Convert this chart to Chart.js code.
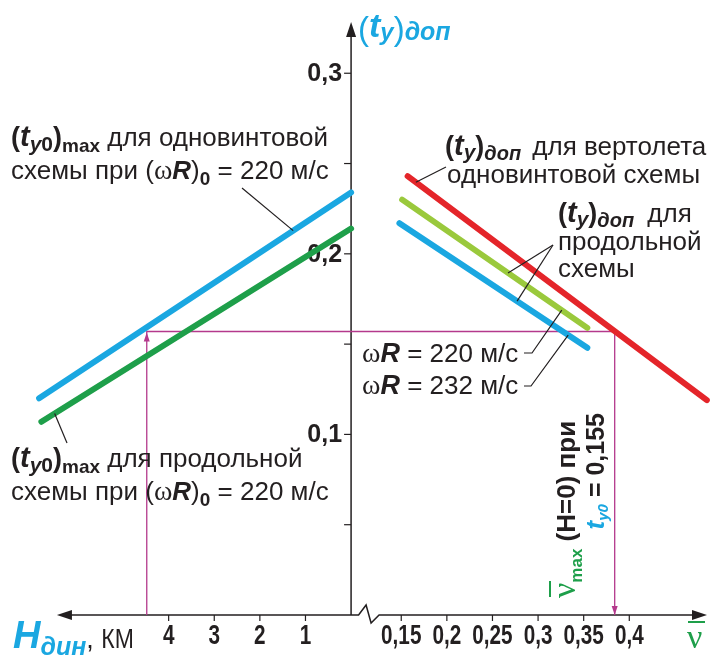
<!DOCTYPE html>
<html>
<head>
<meta charset="utf-8">
<script src="https://cdn.jsdelivr.net/npm/chart.js@4.4.0/dist/chart.umd.min.js"></script>
<style>
  html, body { margin: 0; padding: 0; background: #fff; }
  canvas { display: block; }
</style>
</head>
<body>
<canvas id="chart" width="710" height="658"></canvas>
<script>
// ticks
const hTicks = [4, 3, 2, 1];
const nuTicks = [0.15, 0.2, 0.25, 0.3, 0.35, 0.4];
const nuTickLabels = ['0,15', '0,2', '0,25', '0,3', '0,35', '0,4'];
const tyTicks = [0.1, 0.2, 0.3];
const tyTickLabels = ['0,1', '0,2', '0,3'];
const tyMinorTicks = [0.05, 0.15, 0.25];

// (t_y0)max against H_дин, km
const hSingle = [6.84, 0];
const ty0Single = [0.120, 0.234];
const hTandem = [6.79, 0];
const ty0Tandem = [0.107, 0.214];

// (t_y)доп against ν̄
const nuSingle = [0.157, 0.485];
const tySingle = [0.243, 0.119];
const nuTandem220 = [0.151, 0.354];
const tyTandem220 = [0.230, 0.159];
const nuTandem232 = [0.148, 0.354];
const tyTandem232 = [0.217, 0.148];

// worked example (magenta lines)
const hRead = 4.48;
const tyRead = 0.157;
const nuRead = 0.384;

const BLUE = '#1aa7e1', GREEN = '#1e9f4a', LIME = '#9ac93c', RED = '#e4252a';
const PURPLE = '#b4398c', INK = '#231f20';
const SANS = '"Liberation Sans", Arial, sans-serif';
const SERIF = '"Liberation Serif", "Times New Roman", serif';

// one shared x scale: left of the axis is -H (km), right of it is ν̄ (0.05 per unit, after a break)
const NU0 = 1.1;
const fromH = h => -h;
const fromNu = v => NU0 + (v - 0.15) * 20;

function pts(xs, ys, map) {
  return xs.map((v, i) => ({ x: map(v), y: ys[i] }));
}
function series(xs, ys, map, color) {
  return {
    data: pts(xs, ys, map),
    borderColor: color, borderWidth: 6, borderCapStyle: 'round',
    pointRadius: 0, clip: false, tension: 0
  };
}

function rich(ctx, x, y, parts, draw = true) {
  let cx = x;
  for (const [t, font, color, dy = 0, sx = 1] of parts) {
    ctx.font = font;
    if (draw) {
      ctx.fillStyle = color;
      ctx.save();
      ctx.translate(cx, y + dy);
      ctx.scale(sx, 1);
      ctx.fillText(t, 0, 0);
      ctx.restore();
    }
    cx += ctx.measureText(t).width * sx;
  }
  return cx - x;
}

function arrow(ctx, tx, ty, dx, dy, len, half) {
  const px = -dy, py = dx;
  ctx.beginPath();
  ctx.moveTo(tx, ty);
  ctx.lineTo(tx - dx * len + px * half, ty - dy * len + py * half);
  ctx.lineTo(tx - dx * len - px * half, ty - dy * len - py * half);
  ctx.closePath();
  ctx.fill();
}

function seg(ctx, list) {
  ctx.beginPath();
  ctx.moveTo(list[0][0], list[0][1]);
  for (let i = 1; i < list.length; i++) ctx.lineTo(list[i][0], list[i][1]);
  ctx.stroke();
}

const axesPlugin = {
  id: 'axes',
  beforeDatasetsDraw(chart) {
    const { ctx, chartArea, scales: { x, y } } = chart;
    const x0 = x.getPixelForValue(0);
    const y0 = y.getPixelForValue(0);
    ctx.save();
    ctx.strokeStyle = INK; ctx.fillStyle = INK; ctx.lineWidth = 1.5;
    // y axis
    const yTip = chartArea.top - 7;
    seg(ctx, [[x0, y0], [x0, yTip + 8]]);
    arrow(ctx, x0, yTip, 0, -1, 15, 5);
    // x axis with break
    const xLeft = x.getPixelForValue(fromH(6.45));
    const xRight = chartArea.right + 2;
    seg(ctx, [[xLeft + 8, y0], [x0 + 7.5, y0], [x0 + 15, y0 - 10], [x0 + 20, y0 + 8], [x0 + 28, y0], [xRight - 8, y0]]);
    arrow(ctx, xLeft, y0, -1, 0, 15, 5);
    arrow(ctx, xRight, y0, 1, 0, 15, 5);
    // y ticks
    ctx.lineWidth = 1.2;
    tyTicks.concat(tyMinorTicks).forEach(v => {
      const p = y.getPixelForValue(v);
      seg(ctx, [[x0 - 7, p], [x0, p]]);
    });
    ctx.font = `bold 25px ${SANS}`;
    ctx.textAlign = 'right'; ctx.textBaseline = 'middle';
    tyTicks.forEach((v, i) => ctx.fillText(tyTickLabels[i], x0 - 9, y.getPixelForValue(v) + 1));
    // x ticks
    const xt = hTicks.map(h => [x.getPixelForValue(fromH(h)), String(h)])
      .concat(nuTicks.map((v, i) => [x.getPixelForValue(fromNu(v)), nuTickLabels[i]]));
    ctx.textAlign = 'left'; ctx.textBaseline = 'alphabetic';
    xt.forEach(([p, lab]) => {
      seg(ctx, [[p, y0], [p, y0 + 6]]);
      ctx.font = `bold 28px ${SANS}`;
      const w = ctx.measureText(lab).width * 0.74;
      ctx.save(); ctx.translate(p - w / 2, 644); ctx.scale(0.74, 1); ctx.fillText(lab, 0, 0); ctx.restore();
    });
    ctx.restore();
  },
  afterDatasetsDraw(chart) {
    const { ctx, scales: { x, y } } = chart;
    const onLine = (xs, ys, map, v) => {
      const f = (v - xs[0]) / (xs[1] - xs[0]);
      return [x.getPixelForValue(map(v)), y.getPixelForValue(ys[0] + f * (ys[1] - ys[0]))];
    };
    ctx.save();
    // magenta arrow heads
    ctx.fillStyle = PURPLE;
    arrow(ctx, x.getPixelForValue(fromH(hRead)), y.getPixelForValue(tyRead) + 1, 0, -1, 9, 3);
    arrow(ctx, x.getPixelForValue(fromNu(nuRead)), y.getPixelForValue(0), 0, 1, 9, 3);

    // leader lines
    ctx.strokeStyle = INK; ctx.lineWidth = 1.2;
    seg(ctx, [[242, 188], onLine(hSingle, ty0Single, fromH, 1.27)]);
    seg(ctx, [[67, 443], onLine(hTandem, ty0Tandem, fromH, 6.5)]);
    seg(ctx, [[446, 167], onLine(nuSingle, tySingle, fromNu, 0.166)]);
    seg(ctx, [[553, 245], onLine(nuTandem220, tyTandem220, fromNu, 0.267)]);
    seg(ctx, [[553, 245], onLine(nuTandem232, tyTandem232, fromNu, 0.277)]);
    seg(ctx, [[524, 353], [532, 353], onLine(nuTandem220, tyTandem220, fromNu, 0.326)]);
    seg(ctx, [[524, 386], [531, 386], onLine(nuTandem232, tyTandem232, fromNu, 0.333)]);

    ctx.textAlign = 'left'; ctx.textBaseline = 'alphabetic';
    // axis titles
    rich(ctx, 358, 39, [
      ['(', `33px ${SANS}`, BLUE, 1],
      ['t', `italic bold 34px ${SANS}`, BLUE, -2],
      ['y', `italic bold 24px ${SANS}`, BLUE, 1],
      [')', `33px ${SANS}`, BLUE, 1],
      ['доп', `italic bold 25px ${SANS}`, BLUE, 1]
    ]);
    rich(ctx, 13, 648, [
      ['H', `italic bold 38px ${SANS}`, BLUE],
      ['дин', `italic bold 25px ${SANS}`, BLUE, 7],
      [', ', `27px ${SANS}`, INK],
      ['КМ', `28px ${SANS}`, INK, 0, 0.82]
    ]);
    ctx.font = `34px ${SERIF}`;
    ctx.fillStyle = GREEN;
    ctx.fillText('ν', 687, 648);
    ctx.fillRect(688, 621, 17, 2);

    // left annotations
    const tyo = (x0, y0) => rich(ctx, x0, y0, [
      ['(', `bold 27px ${SANS}`, INK],
      ['t', `italic bold 29px ${SANS}`, INK],
      ['y', `italic bold 21px ${SANS}`, INK, 5],
      ['0', `bold 21px ${SANS}`, INK, 5],
      [')', `bold 27px ${SANS}`, INK],
      ['max', `bold 19px ${SANS}`, INK, 6]
    ]);
    const scheme = (x0, y0) => rich(ctx, x0, y0, [
      ['схемы при (', `26px ${SANS}`, INK],
      ['ω', `28px ${SERIF}`, INK],
      ['R', `italic bold 26px ${SANS}`, INK],
      [')', `26px ${SANS}`, INK],
      ['0', `bold 19px ${SANS}`, INK, 6],
      [' = 220 м/с', `26px ${SANS}`, INK]
    ]);
    let w = tyo(11, 146);
    rich(ctx, 11 + w, 146, [[' для одновинтовой', `26px ${SANS}`, INK]]);
    scheme(11, 179);
    w = tyo(11, 467);
    rich(ctx, 11 + w, 467, [[' для продольной', `26px ${SANS}`, INK]]);
    scheme(11, 500);

    // right annotations
    const tyDop = (x0, y0) => rich(ctx, x0, y0, [
      ['(', `bold 27px ${SANS}`, INK],
      ['t', `italic bold 29px ${SANS}`, INK],
      ['y', `italic bold 21px ${SANS}`, INK, 4],
      [')', `bold 27px ${SANS}`, INK],
      ['доп', `italic bold 20px ${SANS}`, INK, 5]
    ]);
    w = tyDop(445, 155);
    rich(ctx, 445 + w + 4, 155, [[' для вертолета', `26px ${SANS}`, INK]]);
    rich(ctx, 447, 183, [['одновинтовой схемы', `26px ${SANS}`, INK]]);
    w = tyDop(558, 222);
    rich(ctx, 558 + w + 6, 222, [[' для', `26px ${SANS}`, INK]]);
    rich(ctx, 558, 250, [['продольной', `26px ${SANS}`, INK]]);
    rich(ctx, 558, 277, [['схемы', `26px ${SANS}`, INK]]);

    const omega = (y0, val) => rich(ctx, 362, y0, [
      ['ω', `28px ${SERIF}`, INK],
      ['R', `italic bold 27px ${SANS}`, INK],
      [' = ' + val + ' м/с', `26px ${SANS}`, INK]
    ]);
    omega(362, '220');
    omega(394, '232');

    // rotated note
    ctx.save();
    ctx.translate(575, 598);
    ctx.rotate(-Math.PI / 2);
    rich(ctx, 0, 0, [
      ['ν', `34px ${SERIF}`, GREEN],
      ['max', `bold 17px ${SANS}`, GREEN, 7],
      [' (H=0) при', `bold 26px ${SANS}`, INK]
    ]);
    ctx.fillStyle = GREEN;
    ctx.fillRect(1, -26, 16, 2);
    ctx.restore();

    ctx.save();
    ctx.translate(604, 413);
    ctx.rotate(-Math.PI / 2);
    const note2 = [
      ['t', `italic bold 26px ${SANS}`, BLUE],
      ['y0', `italic bold 15px ${SANS}`, BLUE, 4],
      [' = 0,155', `bold 25px ${SANS}`, INK]
    ];
    const nw = rich(ctx, 0, 0, note2, false);
    rich(ctx, -nw, 0, note2);
    ctx.restore();

    ctx.restore();
  }
};

const readout = {
  data: [
    { x: fromH(hRead), y: 0 },
    { x: fromH(hRead), y: tyRead },
    { x: fromNu(nuRead), y: tyRead },
    { x: fromNu(nuRead), y: 0 }
  ],
  borderColor: PURPLE, borderWidth: 1.3, pointRadius: 0, clip: false, tension: 0
};

new Chart(document.getElementById('chart').getContext('2d'), {
  type: 'line',
  data: {
    datasets: [
      series(hSingle, ty0Single, fromH, BLUE),
      series(hTandem, ty0Tandem, fromH, GREEN),
      series(nuSingle, tySingle, fromNu, RED),
      series(nuTandem220, tyTandem220, fromNu, LIME),
      series(nuTandem232, tyTandem232, fromNu, BLUE),
      readout
    ]
  },
  options: {
    responsive: false,
    animation: false,
    layout: { padding: { left: 30, right: 5, top: 29, bottom: 43 } },
    scales: {
      x: { type: 'linear', min: -7.04, max: 7.76, display: false },
      y: { type: 'linear', min: 0, max: 0.3245, display: false }
    },
    plugins: { legend: { display: false }, tooltip: { enabled: false } }
  },
  plugins: [axesPlugin]
});
</script>
</body>
</html>
